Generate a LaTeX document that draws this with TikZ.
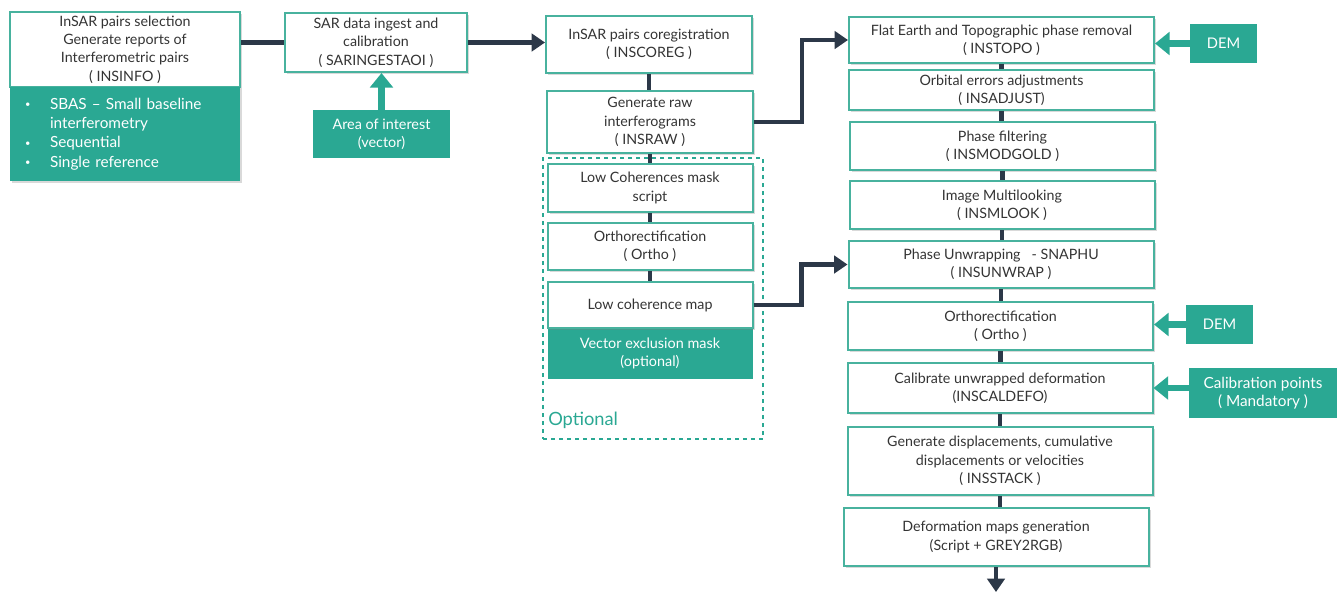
\documentclass[tikz,border=0pt]{standalone}
\usepackage{fontspec}
\setmainfont{Lato}
\usetikzlibrary{arrows.meta, positioning, shadows, calc}
\definecolor{TL}{RGB}{42,168,147}
\definecolor{TB}{RGB}{72,178,158}
\definecolor{DK}{RGB}{44,56,72}
\definecolor{TX}{RGB}{52,52,52}
\newcommand{\lbul}{\makebox[18.75pt][l]{\raisebox{1.2pt}{\scriptsize\textbullet}}}

\begin{document}
\begin{tikzpicture}[x=0.75pt, y=-0.75pt,
  sz/.style 2 args={minimum width=#1*0.75pt, minimum height=#2*0.75pt},
  proc/.style={draw=TB, line width=1.5pt, fill=white, align=center,
               text=TX, inner sep=1pt, font=\fontsize{10.7}{13.8}\selectfont,
               drop shadow={opacity=0.3, shadow xshift=1.8pt, shadow yshift=-1.8pt}},
  gbox/.style={fill=TL, text=white, align=center, inner sep=1pt,
               font=\fontsize{10.8}{13.8}\selectfont},
  link/.style={draw=DK, line width=3.6pt},
  flow/.style={link, -{Triangle[length=10pt, width=13pt]}},
  feed/.style={draw=TL, line width=5pt, -{Triangle[length=11pt, width=17pt]}},
  optbox/.style={draw=TL, dashed, line width=1.1pt}
]
\useasboundingbox (0,0) rectangle (1342,594);

% Selection and ingest
\node[proc, sz={230}{75}] (info) at (125,49.5)
  {InSAR pairs selection\\Generate reports of\\Interferometric pairs\\( INSINFO )};
\node[gbox, sz={230}{94}, text width=150pt, inner xsep=11.25pt, align=left,
      font=\fontsize{11.5}{14.4}\selectfont,
      drop shadow={opacity=0.3, shadow xshift=1.8pt, shadow yshift=-1.8pt}] (modes) at (125,134)
  {\lbul SBAS – Small baseline\\
   \hspace*{18.75pt}interferometry\\
   \lbul Sequential\\
   \lbul Single reference};
\node[proc, sz={182}{59}] (ingest) at (376,42.5)
  {SAR data ingest and\\calibration\\( SARINGESTAOI )};
\node[gbox, sz={137}{48}] (aoi) at (381.5,134) {Area of interest\\(vector)};

% Coregistration column with optional block
\node[optbox, sz={220}{281}] (opt) at (653,298.5) {};
\node[proc, sz={206}{57}] (coreg) at (649,44.5) {InSAR pairs coregistration\\( INSCOREG )};
\node[proc, sz={206}{62}] (raw) at (650,122) {Generate raw\\interferograms\\( INSRAW )};
\node[proc, sz={205}{48}] (mask) at (650,188) {Low Coherences mask\\script};
\node[proc, sz={205}{47}] (ortho) at (650,246.5) {Orthorectification\\( Ortho )};
\node[gbox, sz={205}{51}] (vmask) at (650,353.5) {Vector exclusion mask\\(optional)};
\node[proc, sz={205}{46}] (lcmap) at (650,305) {Low coherence map};
\node[anchor=west, text=TL, inner sep=0pt, font=\fontsize{13.7}{16}\selectfont] (optlbl) at (548,420) {Optional};

% Processing chain
\foreach \n/\x/\y/\h/\t in {
  topo/1001.5/40/46/{Flat Earth and Topographic phase removal\\( INSTOPO )},
  adjust/1001.5/90/40/{Orbital errors adjustments\\( INSADJUST)},
  filt/1002.5/146/48/{Phase filtering\\( INSMODGOLD )},
  mlook/1002/205/48/{Image Multilooking\\( INSMLOOK )},
  unwrap/1001/264.5/47/{Phase Unwrapping\ \ \ - SNAPHU\\( INSUNWRAP )},
  rortho/1000.5/326/48/{Orthorectification\\( Ortho )},
  caldefo/1000/388/50/{Calibrate unwrapped deformation\\(INSCALDEFO)},
  stack/1000/461/68/{Generate displacements, cumulative\\displacements or velocities\\( INSSTACK )},
  defmap/996/537/58/{Deformation maps generation\\(Script + GREY2RGB)}}{
  \node[proc, sz={305}{\h}] (\n) at (\x,\y) {\t};
}

% Inputs
\node[gbox, sz={67}{39}, font=\fontsize{11}{13}\selectfont] (dem1) at (1223.5,43.5) {DEM};
\node[gbox, sz={67}{39}, font=\fontsize{11}{13}\selectfont] (dem2) at (1219.5,324.5) {DEM};
\node[gbox, sz={148}{50}, font=\fontsize{11.5}{14}\selectfont] (calpts) at (1263,393) {Calibration points\\( Mandatory )};
\coordinate (out) at (998,592);

% Connectors
\draw[link] (info.east |- ingest) -- (ingest.west);
\draw[flow] (ingest.east) -- (ingest.east -| coreg.west);
\draw[feed] (aoi.north) -- (aoi.north |- ingest.south);
\foreach \a/\b in {coreg/raw, raw/mask, mask/ortho, ortho/lcmap}{
  \draw[link] (\a.south) -- (\a.south |- \b.north);
}
\foreach \a/\b in {topo/adjust, adjust/filt, filt/mlook, mlook/unwrap,
                   unwrap/rortho, rortho/caldefo, caldefo/stack, stack/defmap}{
  \draw[link] (\a.south) -- (\a.south |- \b.north);
}
\draw[flow] (raw.east) -- ++(48,0) |- (topo.west);
\draw[flow] (lcmap.east) -- ++(48,0) |- (unwrap.west);
\draw[flow] (defmap.south) -- (defmap.south |- out);
\draw[feed] (dem1.west) -- (dem1.west -| topo.east);
\draw[feed] (dem2.west) -- (dem2.west -| rortho.east);
\draw[feed] (calpts.west |- caldefo) -- (caldefo.east);
\end{tikzpicture}
\end{document}
